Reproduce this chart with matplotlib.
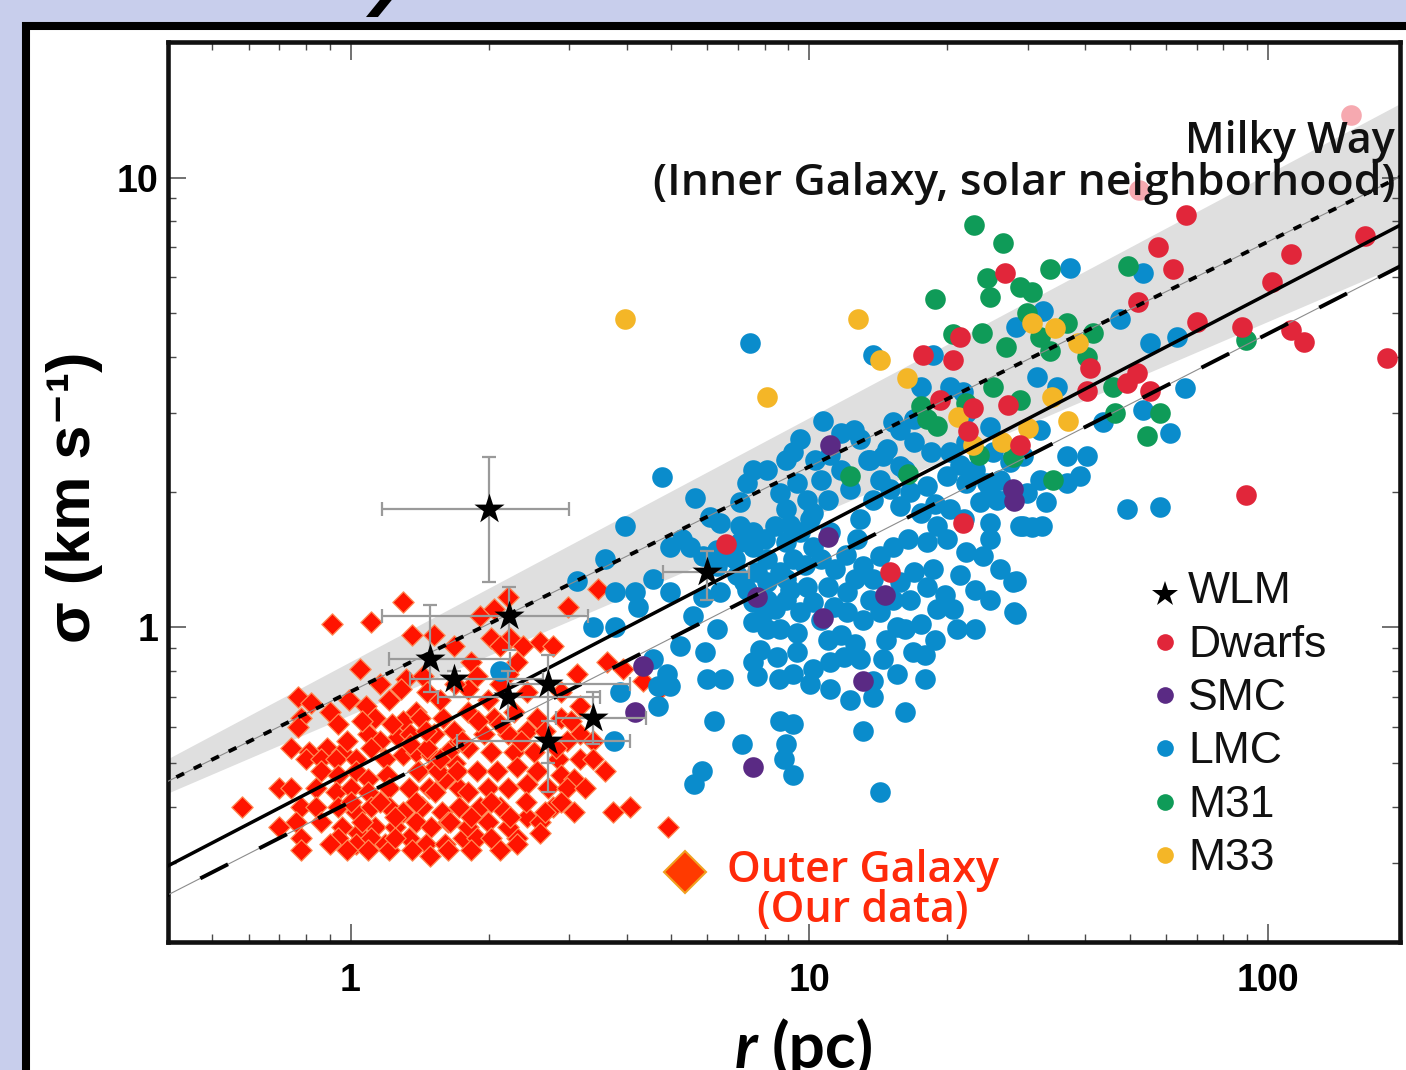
import numpy as np
import matplotlib
matplotlib.use("Agg")
import matplotlib.pyplot as plt
from matplotlib.patches import Rectangle, Polygon
from matplotlib.ticker import LogLocator, NullFormatter

plt.rcParams["font.family"] = ["Liberation Sans", "DejaVu Sans"]

# ==========================
# DATA  (r in pc, sigma in km/s)
# ==========================
# Outer Galaxy clouds (our data)
outer = [
    (1.30, 1.14), (0.91, 1.02), (1.11, 1.03), (1.36, 0.96), (1.52, 0.96), (1.05, 0.81), (1.16, 0.75), (1.32, 0.77),
    (0.77, 0.70), (0.82, 0.68), (0.90, 0.65), (1.08, 0.67), (1.21, 0.69), (0.78, 0.63), (0.94, 0.61), (0.77, 0.60),
    (1.13, 0.63), (1.30, 0.62), (1.39, 0.65), (1.09, 0.58), (1.16, 0.56), (1.27, 0.57), (0.74, 0.54), (0.81, 0.53),
    (0.89, 0.54), (0.96, 0.53), (0.80, 0.51), (0.86, 0.51), (0.93, 0.51), (1.03, 0.51), (1.11, 0.54), (1.19, 0.51),
    (1.30, 0.52), (1.39, 0.53), (1.50, 0.52), (1.66, 0.54), (0.86, 0.48), (0.94, 0.47), (1.03, 0.48), (1.09, 0.46),
    (1.20, 0.47), (1.41, 0.48), (1.53, 0.49), (1.69, 0.50), (0.70, 0.44), (0.74, 0.44), (0.84, 0.44), (0.93, 0.43),
    (1.00, 0.44), (1.09, 0.43), (1.21, 0.44), (1.34, 0.44), (1.48, 0.44), (1.61, 0.46), (1.72, 0.44), (0.58, 0.40),
    (0.78, 0.40), (0.84, 0.40), (0.94, 0.40), (1.03, 0.39), (1.11, 0.40), (1.21, 0.40), (1.30, 0.39), (1.43, 0.40),
    (1.58, 0.39), (1.72, 0.40), (0.70, 0.36), (0.76, 0.37), (0.96, 0.36), (1.04, 0.35), (1.13, 0.36), (1.25, 0.36),
    (1.39, 0.37), (1.50, 0.36), (1.63, 0.37), (0.78, 0.34), (0.94, 0.34), (1.03, 0.33), (1.11, 0.34), (1.19, 0.33),
    (1.34, 0.34), (1.46, 0.33), (1.61, 0.33), (1.76, 0.34), (0.78, 0.32), (1.09, 0.32), (1.21, 0.32), (1.36, 0.32),
    (1.63, 0.32), (2.12, 0.32), (2.31, 0.34),
    (2.20, 1.17), (2.98, 1.11), (3.46, 1.22), (1.92, 1.06), (2.05, 1.10), (2.02, 0.95), (2.23, 0.95), (2.12, 0.91),
    (2.38, 0.91), (2.59, 0.93), (2.76, 0.91), (1.68, 0.91), (1.44, 0.78), (1.83, 0.84), (1.89, 0.78), (2.20, 0.79),
    (2.31, 0.84), (3.12, 0.79), (3.63, 0.84), (3.93, 0.81), (4.35, 0.76), (4.73, 0.73), (1.47, 0.72), (1.80, 0.73),
    (1.99, 0.69), (2.43, 0.72), (2.87, 0.72), (3.17, 0.67), (1.42, 0.63), (1.59, 0.63), (1.80, 0.65), (2.05, 0.63),
    (2.27, 0.65), (2.55, 0.63), (2.87, 0.63), (3.17, 0.58), (3.38, 0.56), (1.35, 0.58), (1.52, 0.58), (1.68, 0.59),
    (1.95, 0.58), (2.20, 0.58), (2.43, 0.59), (2.97, 0.56), (1.47, 0.54), (1.63, 0.53), (1.80, 0.54), (2.02, 0.53),
    (2.27, 0.53), (2.51, 0.53), (2.83, 0.51), (3.17, 0.51), (3.38, 0.51), (3.59, 0.48), (1.40, 0.48), (1.55, 0.48),
    (1.71, 0.48), (1.89, 0.48), (2.09, 0.48), (2.31, 0.49), (2.55, 0.48), (2.87, 0.47), (3.07, 0.46), (1.80, 0.43),
    (1.99, 0.44), (2.20, 0.44), (2.43, 0.45), (2.69, 0.44), (2.97, 0.44), (1.92, 0.40), (2.12, 0.40), (2.43, 0.38),
    (2.76, 0.40), (3.07, 0.39), (3.73, 0.39), (4.07, 0.40), (4.93, 0.36), (1.80, 0.36), (1.99, 0.37), (2.20, 0.36),
    (2.59, 0.37), (1.89, 0.34), (2.31, 0.33),
    (0.99, 0.69), (0.98, 0.56), (1.06, 0.62), (1.23, 0.61), (1.35, 0.55), (1.46, 0.59), (1.57, 0.51), (1.75, 0.56),
    (1.90, 0.62), (2.12, 0.61), (2.35, 0.56), (2.66, 0.59), (2.80, 0.54), (3.02, 0.62), (1.00, 0.41), (1.06, 0.37),
    (1.16, 0.41), (1.25, 0.38), (1.39, 0.41), (1.53, 0.43), (1.65, 0.37), (1.83, 0.38), (2.02, 0.41), (2.23, 0.38),
    (2.41, 0.41), (2.66, 0.39), (2.87, 0.41), (3.25, 0.44), (0.86, 0.37), (0.90, 0.33), (0.98, 0.32), (1.25, 0.34),
    (1.49, 0.31), (1.83, 0.32), (2.02, 0.34), (2.59, 0.35), (1.29, 0.73), (1.57, 0.69), (1.69, 0.75), (2.12, 0.75),
]

lmc = [
    (4.78, 2.16), (10.7, 2.87), (5.64, 1.94), (3.97, 1.68), (3.59, 1.42), (3.78, 1.20), (4.17, 1.20), (4.57, 1.28),
    (4.98, 1.20), (4.24, 1.11), (3.38, 1.00), (3.78, 1.00), (4.98, 1.51), (5.28, 1.57), (5.50, 1.51), (6.09, 1.76),
    (5.88, 1.44), (6.30, 1.37), (6.40, 1.20), (5.58, 1.06), (6.30, 0.99), (5.23, 0.91), (5.94, 0.88), (4.90, 0.79),
    (4.68, 0.74), (4.68, 0.67), (3.87, 0.72), (3.75, 0.56), (6.00, 0.77), (6.50, 0.77), (6.20, 0.62), (7.14, 0.55),
    (5.60, 0.45), (5.85, 0.48), (8.64, 0.62), (9.20, 0.61), (8.90, 0.55), (8.80, 0.51), (9.20, 0.47), (7.55, 0.84),
    (7.70, 0.78), (8.50, 0.86), (9.40, 0.88), (10.2, 0.81), (10.05, 0.75), (9.20, 0.79), (11.1, 0.84), (11.9, 0.86),
    (12.9, 0.85), (13.8, 0.76), (13.8, 0.70), (14.5, 0.85), (15.5, 0.79), (16.8, 0.88), (16.2, 0.65), (13.1, 0.59),
    (14.3, 0.43), (7.55, 1.03), (8.10, 0.99), (8.64, 0.99), (9.40, 0.97), (11.0, 0.94), (9.56, 1.08), (8.90, 1.15),
    (7.98, 1.08), (7.55, 1.14), (8.10, 1.26), (8.90, 1.28), (9.90, 1.23), (10.2, 1.14), (11.3, 1.11), (12.1, 1.08),
    (13.1, 1.04), (14.3, 1.08), (15.5, 1.00), (15.2, 1.15), (13.6, 1.15), (12.1, 1.20), (11.0, 1.23), (13.8, 1.28),
    (15.8, 1.26), (16.6, 1.15), (16.9, 1.33), (18.6, 1.35), (18.1, 1.23), (19.0, 1.10), (20.6, 1.10), (21.0, 0.99),
    (23.0, 0.99), (22.0, 1.47), (23.9, 1.44), (27.8, 1.26), (28.0, 1.08), (28.8, 1.68), (27.4, 1.95), (25.7, 1.92),
    (23.6, 1.90), (24.4, 2.10), (22.0, 2.10), (20.0, 2.17), (18.1, 2.06), (16.6, 2.00), (15.8, 1.86), (17.5, 1.80),
    (19.0, 1.68), (20.0, 1.57), (18.1, 1.55), (16.4, 1.57), (15.2, 1.51), (14.3, 1.44), (13.1, 1.37), (12.7, 1.57),
    (12.9, 1.74), (13.8, 1.92), (14.3, 2.13), (13.6, 2.36), (14.8, 2.49), (15.8, 2.75), (16.9, 2.58), (18.4, 2.45),
    (20.3, 2.45), (22.0, 2.58), (24.8, 2.79), (25.2, 2.45), (27.4, 2.33), (11.1, 1.63), (10.2, 1.51), (9.20, 1.42),
    (8.64, 1.33), (8.10, 1.42), (7.55, 1.51), (7.07, 1.55), (8.90, 1.55), (9.56, 1.63), (10.2, 1.80), (9.90, 1.92),
    (11.0, 1.92), (10.6, 2.13), (9.40, 2.10), (8.90, 1.83), (8.40, 1.68), (7.55, 1.63), (7.07, 1.68), (7.30, 2.10),
    (8.10, 2.24), (7.55, 2.24), (8.64, 1.99), (9.20, 2.45), (9.56, 2.62), (8.90, 2.36), (11.7, 2.71), (12.5, 2.75),
    (13.4, 2.36), (14.5, 2.40), (15.2, 2.86), (16.9, 2.90), (6.40, 1.71), (7.07, 1.90), (6.30, 1.49), (6.70, 1.44),
    (7.70, 1.33), (7.20, 1.26), (8.10, 1.15), (7.44, 4.29), (13.8, 4.04), (18.6, 4.04), (17.5, 3.43), (21.6, 3.33),
    (22.0, 3.00), (37.0, 6.30), (28.3, 4.66), (32.4, 5.04), (31.4, 3.61), (34.6, 3.43), (31.9, 2.75),
    (36.4, 2.40), (40.3, 2.40), (38.9, 2.17), (43.7, 2.86), (47.6, 4.84), (15.8, 2.28), (53.4, 6.15), (55.3, 4.29),
    (63.4, 4.43), (65.9, 3.41), (53.4, 3.05), (61.2, 2.71), (20.3, 3.43), (29.2, 2.40), (31.9, 2.13), (36.4, 2.10),
    (29.8, 1.99), (32.9, 1.90), (24.8, 1.99), (24.8, 1.71), (24.8, 1.57), (29.2, 1.68), (30.6, 1.67), (32.2, 1.68),
    (49.3, 1.83), (58.2, 1.85), (28.3, 1.27), (28.3, 1.07), (2.12, 0.80), (3.12, 1.27), (4.57, 0.85), (4.98, 0.74),
    (6.97, 1.31), (7.30, 1.21), (5.88, 1.17),
    (12.0, 1.45), (12.6, 1.28), (11.4, 1.35), (10.6, 1.42), (9.8, 1.38), (9.1, 1.21), (8.4, 1.10), (10.6, 1.04),
    (11.7, 0.96), (12.6, 0.92), (14.7, 0.94), (16.2, 0.99), (17.5, 1.02), (18.8, 0.94), (17.9, 0.87), (19.8, 1.18),
    (21.3, 1.31), (23.0, 1.21), (24.8, 1.15), (26.1, 1.35), (21.8, 1.74), (20.3, 1.83), (18.8, 1.88), (21.3, 2.30),
    (23.0, 2.24), (26.1, 2.13), (16.2, 2.24), (15.0, 2.03), (12.3, 2.03), (11.7, 2.24), (11.1, 2.42), (10.3, 2.36),
    (12.9, 2.62), (10.05, 1.74), (9.1, 1.69), (8.0, 1.57), (6.9, 1.42), (7.8, 0.89), (8.6, 0.77), (11.1, 0.73),
    (12.3, 0.69), (17.9, 0.77),
]

dwarfs = [
    (6.6, 1.53), (15.0, 1.33), (21.6, 1.71), (26.7, 6.15), (17.7, 4.04), (20.6, 3.94), (21.3, 4.43), (19.3, 3.21),
    (22.7, 3.08), (27.1, 3.13), (22.2, 2.73), (28.8, 2.55), (40.9, 3.78), (40.3, 3.35), (66.4, 8.26), (57.6, 7.02),
    (62.1, 6.25), (52.0, 5.30), (112, 6.75), (163, 7.4), (102, 5.87), (70, 4.78), (112, 4.59), (120, 4.32),
    (182, 3.98), (51.7, 3.68), (49.3, 3.50), (55.3, 3.35), (89.5, 1.97), (88, 4.66),
]
dwarfs_faint = [(152, 13.8), (52.3, 9.4)]

smc = [
    (11.1, 2.55), (11.0, 1.59), (7.7, 1.17), (14.6, 1.18), (10.7, 1.05), (4.35, 0.82), (4.17, 0.65), (7.55, 0.49),
    (13.1, 0.76), (27.8, 2.03), (28.0, 1.91),
]

m31 = [
    (22.9, 7.86), (26.5, 7.17), (33.5, 6.25), (24.4, 5.98), (24.8, 5.43), (28.8, 5.72), (30.6, 5.57), (18.8, 5.36),
    (49.5, 6.36), (29.8, 5.00), (23.8, 4.52), (20.6, 4.48), (36.4, 4.76), (41.5, 4.52), (26.9, 4.21), (31.9, 4.43),
    (33.5, 4.11), (40.3, 4.00), (25.2, 3.43), (28.8, 3.21), (22.0, 3.16), (17.5, 3.10), (18.1, 2.90), (19.0, 2.80),
    (46.0, 3.43), (46.4, 3.00), (12.3, 2.17), (23.4, 2.42), (27.8, 2.39), (34.0, 2.13), (16.4, 2.19), (58.2, 3.00),
    (54.6, 2.66), (89.5, 4.36),
]

m33 = [
    (3.97, 4.84), (12.8, 4.84), (8.1, 3.26), (14.3, 3.94), (16.3, 3.59), (21.1, 2.93), (30.6, 4.76), (34.3, 4.64),
    (38.5, 4.29), (22.7, 2.55), (26.3, 2.59), (30.0, 2.78), (33.9, 3.26), (36.7, 2.87),
]

# WLM clouds with error ranges
wlm_r = [2.00, 2.21, 1.49, 1.68, 2.20, 2.70, 3.37, 2.70, 6.00]
wlm_s = [1.83, 1.06, 0.85, 0.77, 0.70, 0.75, 0.63, 0.56, 1.33]
wlm_r_lo = [1.17, 1.17, 1.21, 1.35, 1.55, 2.20, 2.80, 1.71, 4.80]
wlm_r_hi = [2.99, 3.30, 2.23, 2.63, 3.50, 4.07, 4.40, 4.07, 7.40]
wlm_s_lo = [1.26, 0.89, 0.72, 0.70, 0.62, 0.43, 0.55, 0.50, 1.15]
wlm_s_hi = [2.39, 1.23, 1.12, 0.80, 0.80, 0.87, 0.72, 0.62, 1.48]

# size-linewidth relations: sigma = A * r**b
REL_MW = (0.72, 0.50)       # Milky Way (dotted)
REL_FIT = (0.48, 0.53)      # solid
REL_DASH = (0.41, 0.52)     # dashed
BAND_HI = (0.84, 0.542)
BAND_LO = (0.64, 0.437)

legend_names = ["WLM", "Dwarfs", "SMC", "LMC", "M31", "M33"]

C_OUTER = "#ff1400"
C_DWARF = "#e1263a"
C_SMC = "#5a2a84"
C_LMC = "#0a8ccc"
C_M31 = "#0f9b58"
C_M33 = "#f4b627"

HUMANIST = ["Open Sans", "Lato", "DejaVu Sans"]

# ==========================
# FIGURE
# ==========================
fig = plt.figure(figsize=(14.06, 10.70), dpi=100, facecolor="#c8ceec")

# slide panel
fig.add_artist(Rectangle((0.0185, -0.2), 1.2, 1.1757, transform=fig.transFigure,
                         facecolor="white", edgecolor="black", lw=5.8, zorder=-2))
fig.add_artist(Polygon([(0.2603, 0.9841), (0.2688, 0.9841), (0.2805, 1.003), (0.2720, 1.003)],
                       closed=True, transform=fig.transFigure, facecolor="black",
                       edgecolor="none", zorder=-1))

ax = fig.add_axes([0.1195, 0.1196, 0.8762, 0.8411])
ax.set_xscale("log")
ax.set_yscale("log")
ax.set_xlim(0.40, 194)
ax.set_ylim(0.2, 20)

rr = np.logspace(np.log10(0.35), np.log10(220), 300)

ax.fill_between(rr, BAND_LO[0] * rr ** BAND_LO[1], BAND_HI[0] * rr ** BAND_HI[1],
                color="#dfdfdf", lw=0, zorder=1)


def scat(pts, color, **kw):
    r, s = zip(*pts)
    ax.scatter(r, s, color=color, **kw)


DOT = 220
scat(outer, C_OUTER, marker="D", s=118, edgecolors="#ff8a55", linewidths=0.9, zorder=2)
scat(lmc, C_LMC, marker="o", s=DOT, linewidths=0, zorder=2)
scat(m31, C_M31, marker="o", s=DOT, linewidths=0, zorder=2)
scat(m33, C_M33, marker="o", s=DOT, linewidths=0, zorder=2)
scat(dwarfs, C_DWARF, marker="o", s=DOT, linewidths=0, zorder=2)
scat(dwarfs_faint, "#f6a9b0", marker="o", s=DOT, linewidths=0, zorder=2)
scat(smc, C_SMC, marker="o", s=DOT, linewidths=0, zorder=2)

# relations
ax.plot(rr, REL_MW[0] * rr ** REL_MW[1], color="#8c8c8c", lw=0.8, zorder=3)
ax.plot(rr, REL_MW[0] * rr ** REL_MW[1], color="black", lw=2.8, ls=(0, (2.2, 2.8)), zorder=4)
ax.plot(rr, REL_FIT[0] * rr ** REL_FIT[1], color="black", lw=2.5, zorder=4)
ax.plot(rr, REL_DASH[0] * rr ** REL_DASH[1], color="#8c8c8c", lw=0.8, zorder=3)
ax.plot(rr, REL_DASH[0] * rr ** REL_DASH[1], color="black", lw=2.8, ls=(0, (8, 9)), zorder=4)

# WLM
wr = np.array(wlm_r)
ws = np.array(wlm_s)
ax.errorbar(wr, ws, xerr=[wr - np.array(wlm_r_lo), np.array(wlm_r_hi) - wr],
            yerr=[ws - np.array(wlm_s_lo), np.array(wlm_s_hi) - ws],
            fmt="none", ecolor="#9a9a9a", elinewidth=1.6, capsize=5, capthick=1.6, zorder=5)
ax.scatter(wr, ws, marker="*", s=520, color="black", linewidths=0, zorder=6)

# axes styling
for sp in ax.spines.values():
    sp.set_linewidth(3.3)
    sp.set_color("#111111")

ax.set_xticks([1, 10, 100], labels=["1", "10", "100"], fontsize=27, fontweight="bold")
ax.set_yticks([1, 10], labels=["1", "10"], fontsize=27, fontweight="bold")
ax.xaxis.set_minor_locator(LogLocator(base=10, subs=np.arange(2, 10)))
ax.yaxis.set_minor_locator(LogLocator(base=10, subs=np.arange(2, 10)))
ax.xaxis.set_minor_formatter(NullFormatter())
ax.yaxis.set_minor_formatter(NullFormatter())
ax.tick_params(which="both", direction="in", top=True, right=True, color="#4a4a4a")
ax.tick_params(which="major", length=13, width=1.1)
ax.tick_params(which="minor", length=6, width=1.0)
ax.tick_params(axis="x", which="major", pad=15)
ax.tick_params(axis="y", which="major", pad=7)

# axis titles
fig.text(0.0533, 0.5355, "σ (km s⁻¹)", rotation=90, ha="center", va="center",
         fontsize=44, fontweight="bold")
fig.text(0.5385, 0.0019, "r", ha="right", va="baseline", fontsize=46,
         fontweight="bold", style="italic", family=["Lato", "DejaVu Sans"])
fig.text(0.5490, 0.0019, "(pc)", ha="left", va="baseline", fontsize=46,
         fontweight="bold", family=["Lato", "DejaVu Sans"])

# annotations
ax.text(0.996, 0.8767, "Milky Way", transform=ax.transAxes, ha="right", va="baseline",
        fontsize=31, fontweight="semibold", family=HUMANIST, color="#111111", zorder=7)
ax.text(0.996, 0.830, "(Inner Galaxy, solar neighborhood)", transform=ax.transAxes,
        ha="right", va="baseline", fontsize=32, fontweight="semibold", family=HUMANIST,
        color="#111111", zorder=7)

ax.plot([0.4196], [0.0778], marker="D", ms=21, color="#ff3a00", mec="#f0a020", mew=1.5,
        transform=ax.transAxes, zorder=7, clip_on=False)
ax.text(0.5641, 0.0667, "Outer Galaxy", transform=ax.transAxes, ha="center", va="baseline",
        fontsize=31, fontweight="semibold", family=HUMANIST, color="#ff2a0a", zorder=7)
ax.text(0.5641, 0.0222, "(Our data)", transform=ax.transAxes, ha="center", va="baseline",
        fontsize=31, fontweight="semibold", family=HUMANIST, color="#ff2a0a", zorder=7)

# legend
leg_colors = ["black", C_DWARF, C_SMC, C_LMC, C_M31, C_M33]
for i, (name, col) in enumerate(zip(legend_names, leg_colors)):
    y = 0.393 - 0.0593 * i
    if name == "WLM":
        ax.plot([0.8093], [y - 0.006], marker="*", ms=19, color=col, mew=0,
                transform=ax.transAxes, zorder=7)
    else:
        ax.plot([0.8093], [y], marker="o", ms=12, color=col, mew=0,
                transform=ax.transAxes, zorder=7)
    ax.text(0.8279, y - 0.0167, name, transform=ax.transAxes, ha="left", va="baseline",
            fontsize=32, color="#111111", zorder=7)

fig.savefig("out.png", dpi=100, facecolor=fig.get_facecolor())
